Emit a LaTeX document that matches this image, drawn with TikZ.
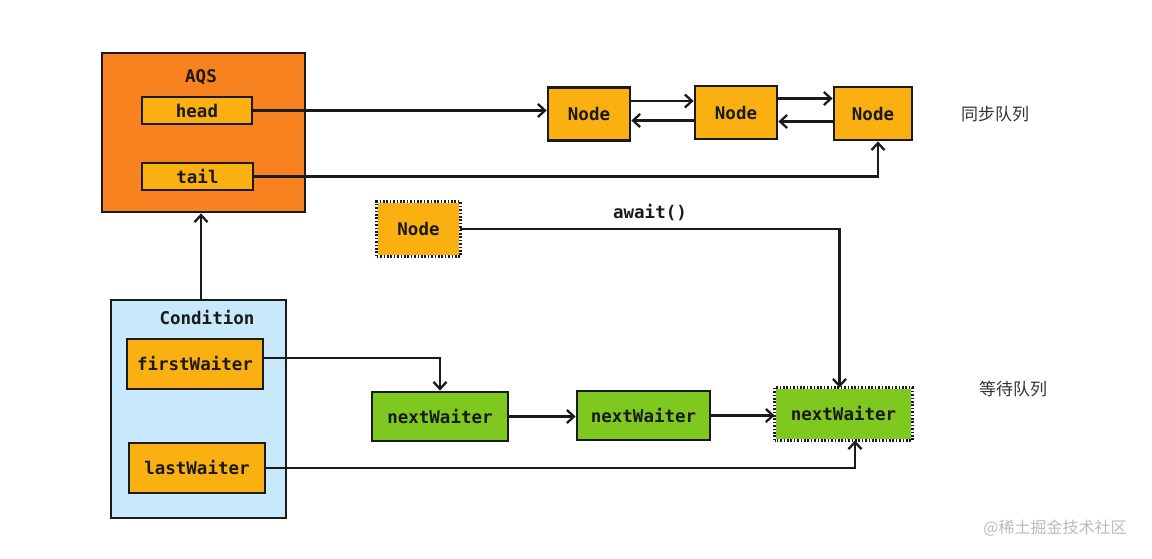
\documentclass[tikz,border=0pt]{standalone}
\usepackage{fontspec}
\setmainfont{DejaVu Sans Mono}
\newfontfamily\cjk{Noto Sans CJK SC}
\usetikzlibrary{arrows.meta}
\definecolor{aqsorange}{HTML}{F98220}
\definecolor{amber}{HTML}{FAB010}
\definecolor{condblue}{HTML}{C7E9FB}
\definecolor{wgreen}{HTML}{7FC81F}
\definecolor{cjkgray}{HTML}{333333}
\definecolor{wmgray}{HTML}{BBBBBB}
\definecolor{ink}{HTML}{1A1A1A}
\tikzset{
  box/.style={draw=ink, line width=2.8pt, inner sep=0pt, font=\bfseries\fontsize{17.5}{20}\selectfont, text=ink},
  field/.style={box, fill=amber},
  qnode/.style={box, fill=amber, minimum width=80pt, minimum height=53pt},
  waiter/.style={box, fill=wgreen, minimum width=135pt, minimum height=49pt},
  dotbox/.style={draw=ink, line width=2.6pt, dash pattern=on 1.6pt off 1.8pt},
  conn/.style={draw=ink, line width=2.3pt, -{Straight Barb[length=7pt,width=13pt,line width=2.3pt]}},
  title/.style={font=\bfseries\fontsize{17.5}{20}\selectfont, text=ink},
  cjklabel/.style={font=\cjk\fontsize{17}{20}\selectfont, text=cjkgray}
}
\begin{document}
\begin{tikzpicture}[x=1pt,y=-1pt]
\useasboundingbox (0,0) rectangle (1152,558);
% AQS
\node[box, fill=aqsorange, minimum width=203pt, minimum height=159pt] (aqs) at (203.5,132.5) {};
\node[title] (aqst) at (201,77) {AQS};
\node[field, minimum width=110pt, minimum height=27pt] (head) at (197,110.5) {head};
\node[field, minimum width=111pt, minimum height=27pt] (tail) at (197.5,176.5) {tail};
% sync queue
\node[qnode, minimum width=82pt] (n1) at (589,114) {Node};
\node[qnode, minimum width=82pt] (n2) at (736,112.5) {Node};
\node[qnode, minimum width=78pt] (n3) at (873,113.5) {Node};
\node[cjklabel] (syncq) at (995,114) {同步队列};
% new node
\node[box, fill=amber, draw=none, minimum width=81pt, minimum height=52pt] (nd) at (418.5,229) {Node};
\draw[dotbox] (nd.south west) rectangle (nd.north east);
\node[title] (await) at (650,213) {await()};
% Condition
\node[box, fill=condblue, minimum width=175pt, minimum height=218pt] (cond) at (198.5,409) {};
\node[title] (condt) at (207,318) {Condition};
\node[field, minimum width=136pt, minimum height=50pt] (fw) at (195,364) {firstWaiter};
\node[field, minimum width=136pt, minimum height=50pt] (lw) at (197,468) {lastWaiter};
% wait queue
\node[waiter, minimum width=136pt] (w1) at (440,416.5) {nextWaiter};
\node[waiter, minimum width=133pt] (w2) at (643.5,415.5) {nextWaiter};
\node[waiter, draw=none, minimum width=135pt, minimum height=50pt] (w3) at (843.5,414) {nextWaiter};
\draw[dotbox] (w3.south west) rectangle (w3.north east);
\node[cjklabel] (waitq) at (1013,389) {等待队列};
% watermark
\node[font=\cjk\fontsize{16}{19}\selectfont, text=wmgray] (wm) at (1055,528) {@稀土掘金技术社区};
% connectors
\draw[conn] (head.east) -- (head.east -| n1.west);
\draw[conn] ([yshift=13pt]n1.east) -- ([yshift=13pt]n1.east -| n2.west);
\draw[conn] ([yshift=-8pt]n2.west) -- ([yshift=-8pt]n2.west -| n1.east);
\draw[conn] ([yshift=14pt]n2.east) -- ([yshift=14pt]n2.east -| n3.west);
\draw[conn] ([yshift=-8pt]n3.west) -- ([yshift=-8pt]n3.west -| n2.east);
\draw[conn] (tail.east) -| ([xshift=5pt]n3.south);
\draw[conn] (nd.east) -| ([xshift=-4pt]w3.north);
\draw[conn] (cond.north -| aqst) -- (aqs.south -| aqst);
\draw[conn] ([yshift=6pt]fw.east) -| (w1.north);
\draw[conn] (w1.east) -- (w1.east -| w2.west);
\draw[conn] (w2.east) -- (w2.east -| w3.west);
\draw[conn] (lw.east) -| ([xshift=11.5pt]w3.south);
\end{tikzpicture}
\end{document}
